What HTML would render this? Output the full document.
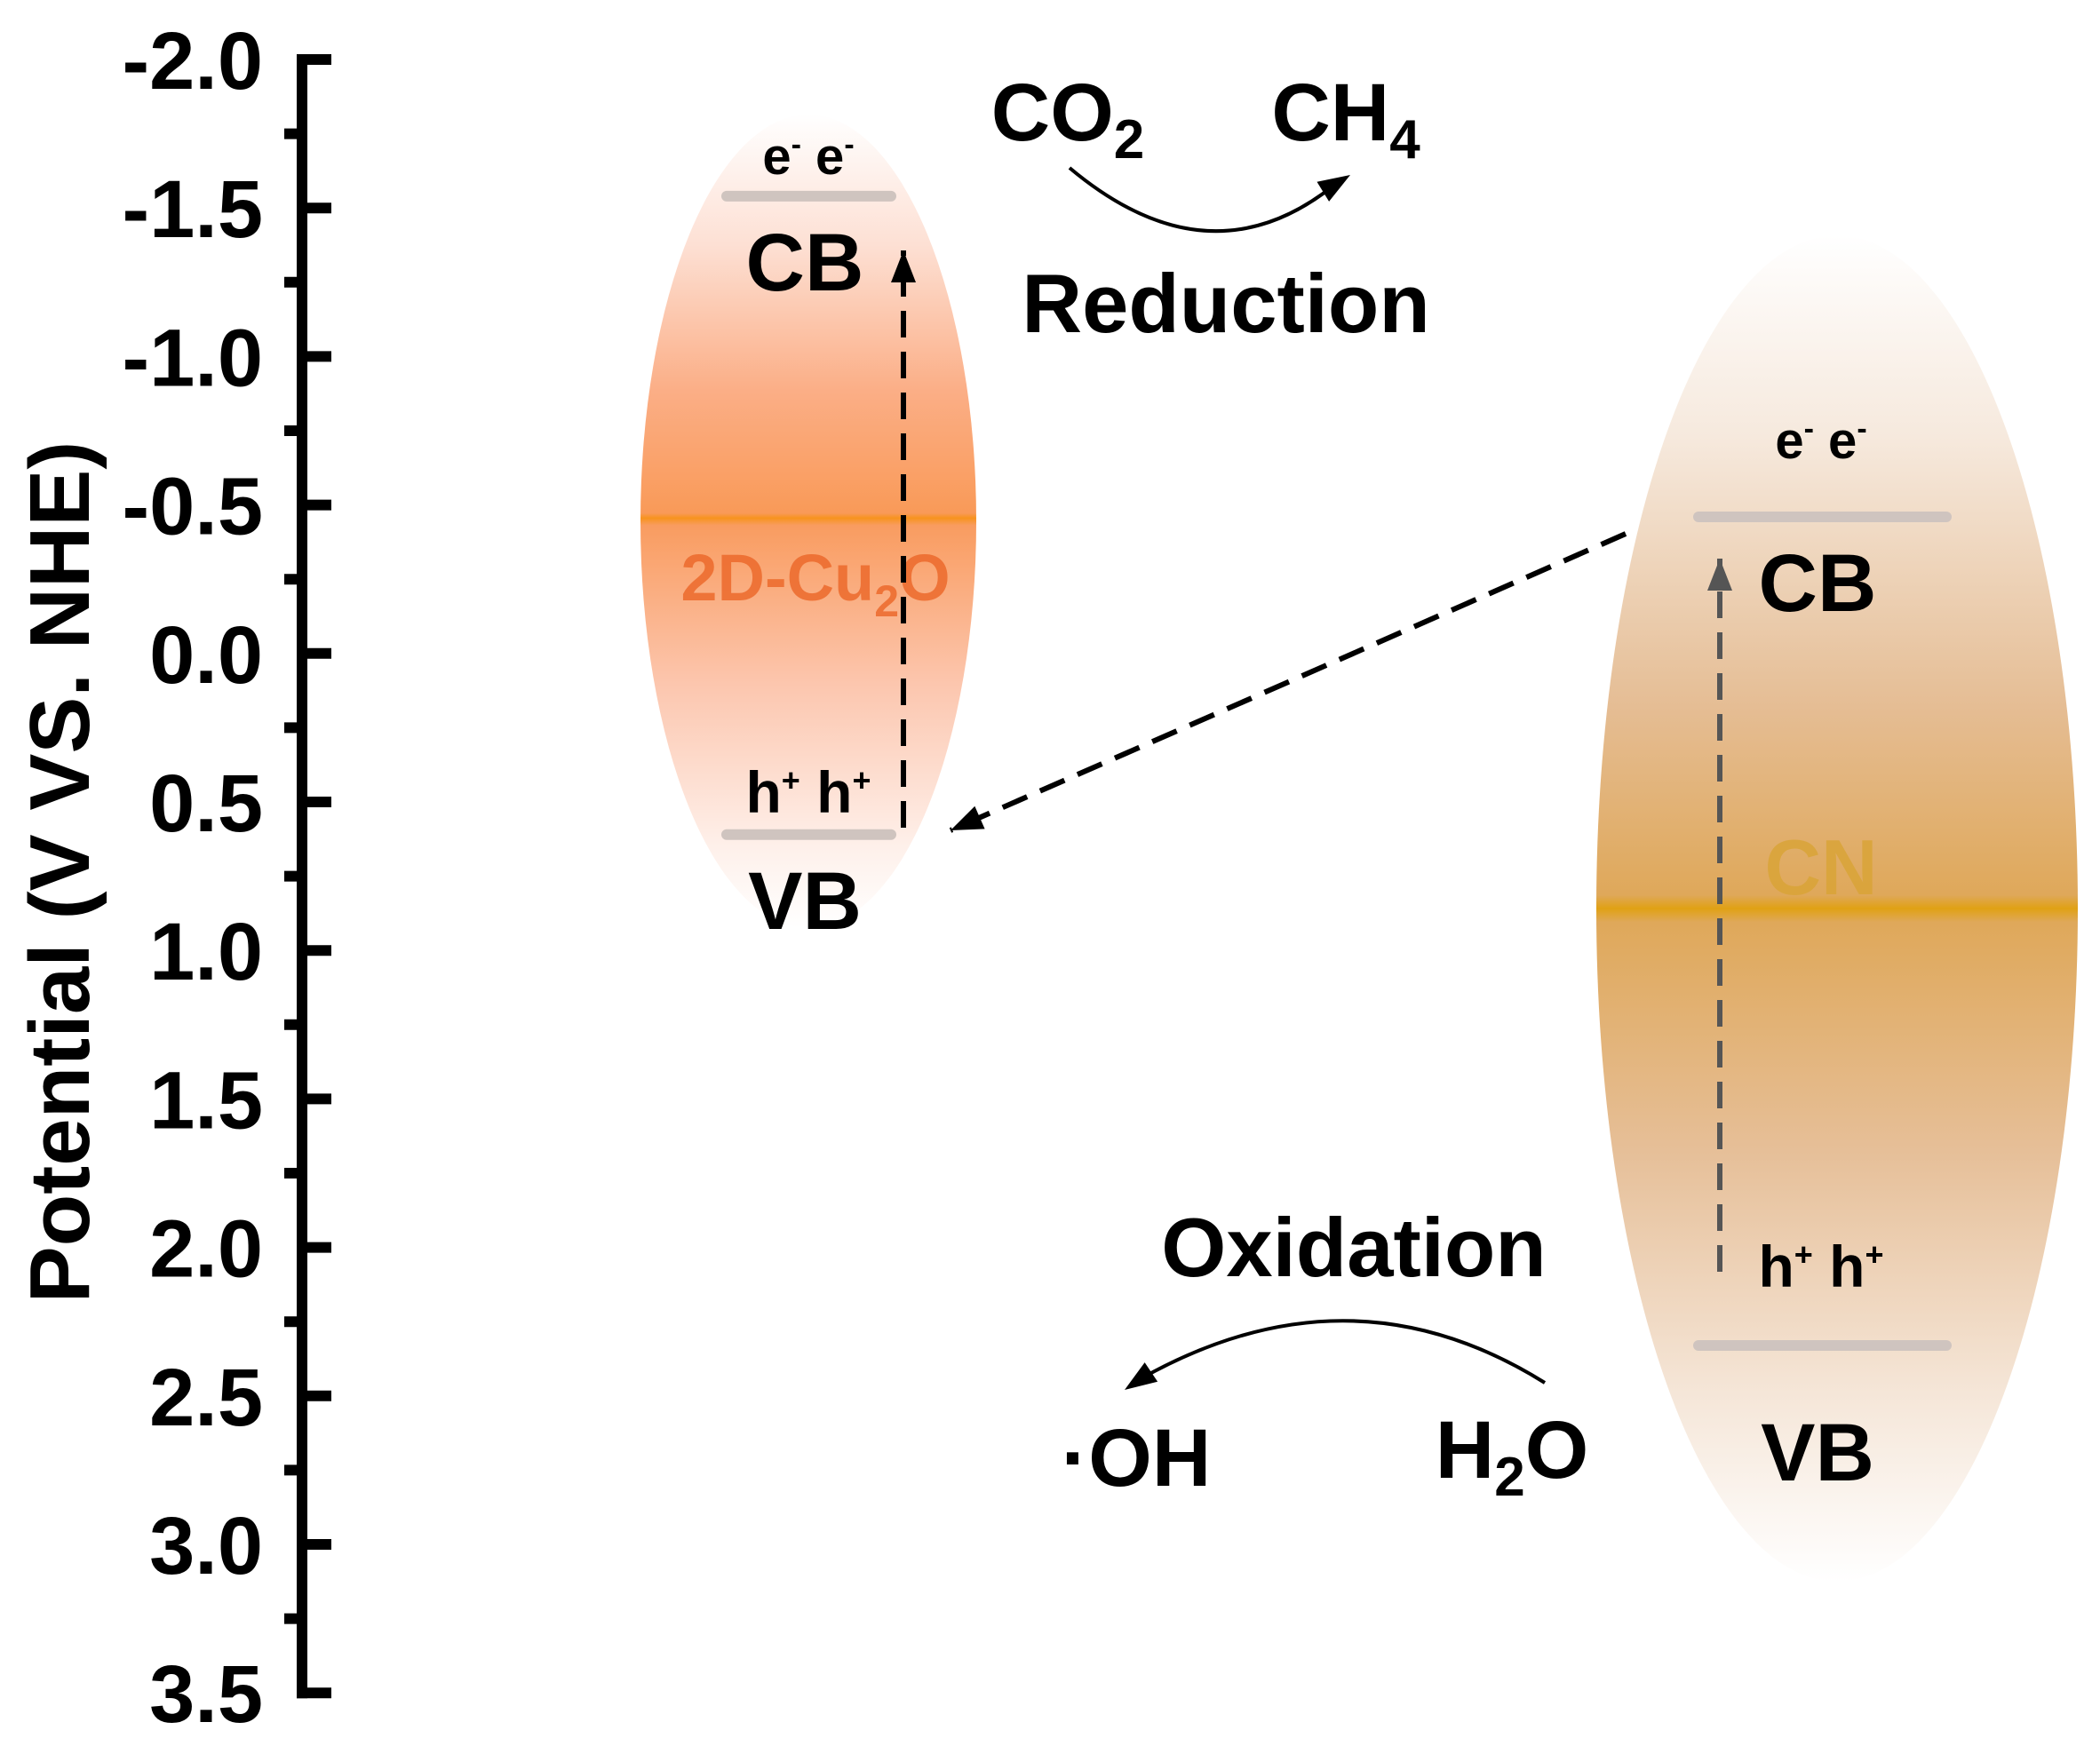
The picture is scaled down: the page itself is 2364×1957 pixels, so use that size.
<!DOCTYPE html>
<html><head><meta charset="utf-8"><style>
html,body{margin:0;padding:0;background:#fff}
svg{display:block}
text{font-family:"Liberation Sans",Arial,sans-serif;font-weight:bold}
</style></head><body>
<svg id="chart" width="2364" height="1957" viewBox="0 0 2364 1957" xmlns="http://www.w3.org/2000/svg">
<defs>
<linearGradient id="gCu" x1="0" y1="0" x2="0" y2="1">
<stop offset="0" stop-color="#ffffff"/>
<stop offset="0.16" stop-color="#fde0d4"/>
<stop offset="0.34" stop-color="#fbae86"/>
<stop offset="0.49" stop-color="#f99a58"/>
<stop offset="0.496" stop-color="#f7931e"/>
<stop offset="0.505" stop-color="#f99c60"/>
<stop offset="0.7" stop-color="#fcc6ae"/>
<stop offset="0.9" stop-color="#fef0ea"/>
<stop offset="1" stop-color="#ffffff"/>
</linearGradient>
<linearGradient id="gCN" x1="0" y1="0" x2="0" y2="1">
<stop offset="0" stop-color="#ffffff"/>
<stop offset="0.15" stop-color="#f6e9dd"/>
<stop offset="0.35" stop-color="#e5bd94"/>
<stop offset="0.49" stop-color="#dfa85a"/>
<stop offset="0.5" stop-color="#e0a114"/>
<stop offset="0.51" stop-color="#dfa85a"/>
<stop offset="0.68" stop-color="#e6bf98"/>
<stop offset="0.86" stop-color="#f5e6d8"/>
<stop offset="1" stop-color="#ffffff"/>
</linearGradient>
</defs>
<g id="axis"></g>
<text transform="translate(100,982) rotate(-90)" text-anchor="middle" font-size="96">Potential (V VS. NHE)</text>
<g id="bands"></g>
</svg>
<script>
const tickValues = [-2.0,-1.5,-1.0,-0.5,0.0,0.5,1.0,1.5,2.0,2.5,3.0,3.5];
const tickLabels = ["-2.0","-1.5","-1.0","-0.5","0.0","0.5","1.0","1.5","2.0","2.5","3.0","3.5"];
const materials = ["2D-Cu2O","CN"];
const cbPotentials = [-1.54,-0.46];
const vbPotentials = [0.61,2.33];
const NS="http://www.w3.org/2000/svg";
const y = v => 67 + (v + 2) * 334.4;
function mk(tag, attrs, parent){const e=document.createElementNS(NS,tag);for(const k in attrs)e.setAttribute(k,attrs[k]);parent.appendChild(e);return e;}
const ax=document.getElementById('axis');
const axLine=mk('line',{x1:340,x2:340,y1:y(-2)-6,y2:y(3.5)+6,stroke:'#000','stroke-width':12},ax);


tickValues.forEach((v,i)=>{
  const t=mk('line',{x1:334,x2:373,y1:y(v),y2:y(v),stroke:'#000','stroke-width':12},ax);
  
  
  const lb=mk('text',{x:296,y:y(v)+33,'text-anchor':'end','font-size':92},ax);
  lb.textContent=tickLabels[i];
  
  
  if(i<tickValues.length-1){
    const m=mk('line',{x1:320,x2:346,y1:y(v+0.25),y2:y(v+0.25),stroke:'#000','stroke-width':12},ax);
    
    
  }
});
const b=document.getElementById('bands');
function txt(s,x,yy,fs,fill,name,op){const t=mk('text',{x:x,y:yy,'text-anchor':'middle','font-size':fs,fill:fill||'#000'},b);if(op)t.setAttribute('opacity',op);t.innerHTML=s;return t;}
const e1=mk('ellipse',{cx:910,cy:587,rx:189,ry:458,fill:'url(#gCu)'},b);


const e2=mk('ellipse',{cx:2068,cy:1023,rx:271,ry:758,fill:'url(#gCN)'},b);


const bx=[[818,1003],[1912,2191]];
const cx=[910,2050];
const eOff=[-25,-66];
const hOff=[-25,-66];
materials.forEach((m,i)=>{
  const c=mk('line',{x1:bx[i][0],x2:bx[i][1],y1:y(cbPotentials[i]),y2:y(cbPotentials[i]),stroke:'#cfc4bf','stroke-width':12,'stroke-linecap':'round'},b);
  
  
  const v=mk('line',{x1:bx[i][0],x2:bx[i][1],y1:y(vbPotentials[i]),y2:y(vbPotentials[i]),stroke:'#cfc4bf','stroke-width':12,'stroke-linecap':'round'},b);
  
  
  txt('e<tspan dy="-22" font-size="34">-</tspan><tspan dy="22"> e</tspan><tspan dy="-22" font-size="34">-</tspan>',cx[i],y(cbPotentials[i])+eOff[i],58,'#000','electrons-label');
  txt('CB',cx[i]-4,y(cbPotentials[i])+106,92,'#000','cb-label');
  txt('h<tspan dy="-24" font-size="36">+</tspan><tspan dy="24"> h</tspan><tspan dy="-24" font-size="36">+</tspan>',cx[i],y(vbPotentials[i])+hOff[i],66,'#000','holes-label');
  txt('VB',cx[i]-4,y(vbPotentials[i])+106+(i?46:0),92,'#000','vb-label');
});
txt('2D-Cu<tspan dy="18" font-size="50">2</tspan><tspan dy="-18">O</tspan>',918,676,74,'#ec6a2c','cu2o-name','0.85');
txt('CN',2050,1007,88,'#d9a435','cn-name','0.8');
function dash(x1,y1,x2,y2,col,name){const l=mk('line',{x1:x1,y1:y1,x2:x2,y2:y2,stroke:col,'stroke-width':6,'stroke-dasharray':'30 16'},b);
 const a=Math.atan2(y2-y1,x2-x1),L=36,W=14;
 const p=mk('path',{d:`M${x2},${y2} L${x2-L*Math.cos(a)+W*Math.sin(a)},${y2-L*Math.sin(a)-W*Math.cos(a)} L${x2-L*Math.cos(a)-W*Math.sin(a)},${y2-L*Math.sin(a)+W*Math.cos(a)} z`,fill:col},b);
 }
dash(1017,932,1017,282,'#000','cu2o-excitation-arrow');
dash(1830,601,1070,935,'#000','transfer-arrow');
dash(1936,1432,1936,629,'#555','cn-excitation-arrow');
function curve(d,x2,y2,a,name){const p=mk('path',{d:d,fill:'none',stroke:'#000','stroke-width':4},b);
 const L=36,W=13;const h=mk('path',{d:`M${x2},${y2} L${x2-L*Math.cos(a)+W*Math.sin(a)},${y2-L*Math.sin(a)-W*Math.cos(a)} L${x2-L*Math.cos(a)-W*Math.sin(a)},${y2-L*Math.sin(a)+W*Math.cos(a)} z`,fill:'#000'},b);}
curve('M1204,189 Q1360,320 1500,210',1520,197,-0.55,'reduction-arrow');
curve('M1739,1557 Q1520,1420 1285,1552',1266,1565,2.55,'oxidation-arrow');
txt('CO<tspan dy="20" font-size="62">2</tspan>',1202,158,92,'#000','co2-label');
txt('CH<tspan dy="20" font-size="62">4</tspan>',1515,158,92,'#000','ch4-label');
txt('Reduction',1380,374,94,'#000','reduction-label');
txt('Oxidation',1524,1437,94,'#000','oxidation-label');
txt('·OH',1279,1673,92,'#000','oh-label');
txt('H<tspan dy="20" font-size="62">2</tspan><tspan dy="-20">O</tspan>',1702,1664,92,'#000','h2o-label');
</script>
</body></html>
